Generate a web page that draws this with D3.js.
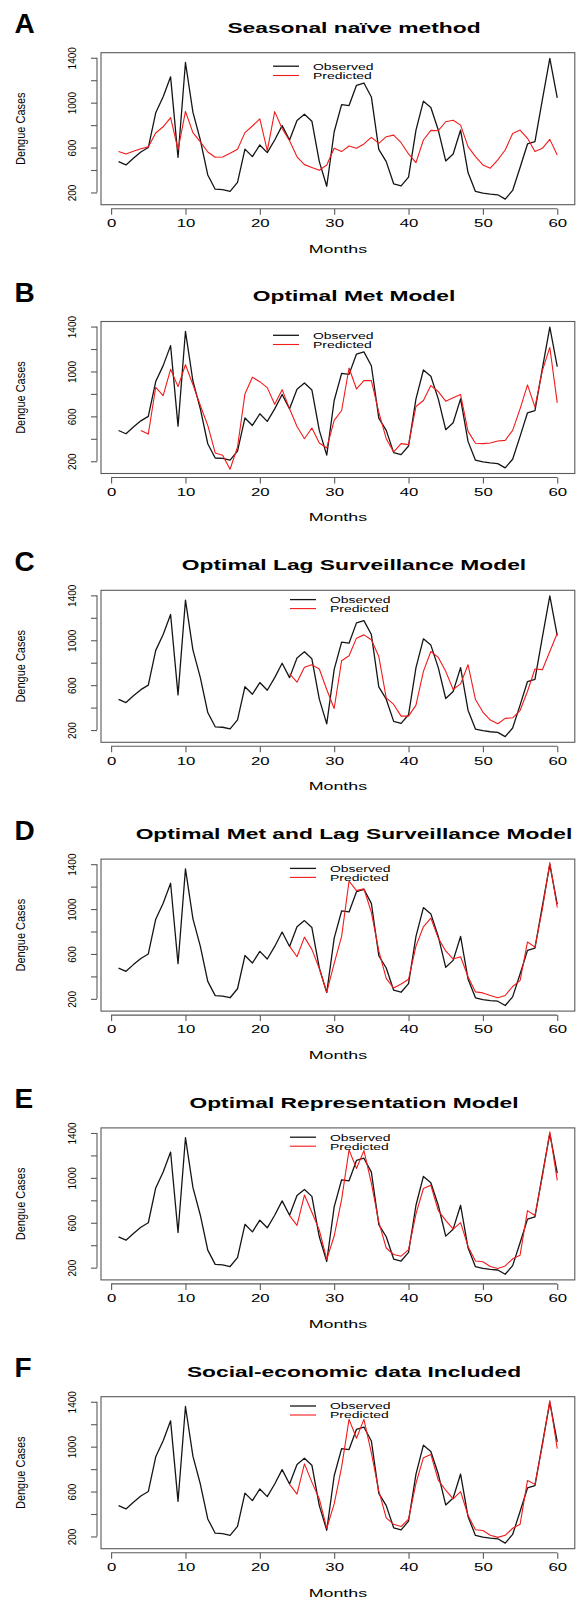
<!DOCTYPE html>
<html><head><meta charset="utf-8">
<script src="https://cdn.jsdelivr.net/npm/d3@7"></script>
<style>body{margin:0;background:#fff}svg{display:block}</style>
</head><body>
<svg id="chart" width="580" height="1604"></svg>
<script>
// ---------- data ----------
const months = d3.range(1, 61);
const observed = [474,445,505,560,600,910,1052,1230,513,1358,915,667,356,229,225,210,290,586,519,623,
  555,667,795,667,842,897,835,475,255,741,983,974,1155,1175,1051,584,475,277,259,336,
  756,1013,957,756,481,543,756,377,209,194,185,179,141,218,422,632,652,1028,1395,1042];

const predSeasonalStart = 1;
const predSeasonal = [564,543,568,590,606,730,785,866,582,922,733,650,560,514,516,549,585,733,792,856,
  572,920,770,660,518,448,423,398,445,593,564,614,593,632,691,637,697,711,643,543,
  466,667,753,750,830,844,800,608,519,445,416,490,578,726,756,682,564,593,673,534];

const predMetStart = 4;
const predMet = [475,442,859,785,1019,865,1060,883,697,519,274,253,129,327,800,948,909,856,708,838,
  667,510,401,496,363,318,564,652,1031,844,918,918,637,401,283,357,348,688,741,874,
  821,735,765,794,466,360,357,363,380,386,475,667,880,682,1007,1214,720];

const predLagStart = 24;
const predLag = [700,626,759,782,744,561,392,818,862,1019,1048,1004,856,487,428,324,324,422,723,900,
  847,723,561,611,782,472,360,289,256,304,309,374,546,744,738,900,1063];

const predMetLagStart = 24;
const predMetLag = [670,575,750,641,469,259,517,756,1250,1164,1181,971,627,382,296,333,374,670,842,920,
  741,627,555,575,397,262,253,230,210,230,310,362,707,661,1000,1415,1014];

const predReprStart = 24;
const predRepr = [664,577,847,693,534,273,482,809,1249,1084,1243,954,606,375,317,302,360,679,905,934,
  708,621,543,601,389,259,253,210,192,215,279,311,708,664,1012,1410,977];

const predSocioStart = 24;
const predSocio = [664,577,847,684,534,273,490,818,1243,1075,1243,945,606,366,308,288,354,673,902,931,
  702,612,534,600,389,259,253,210,192,210,273,308,699,664,1012,1410,983];

const panelLetters = ["A","B","C","D","E","F"];
const panelTitles = ["Seasonal naïve method","Optimal Met Model","Optimal Lag Surveillance Model",
  "Optimal Met and Lag Surveillance Model","Optimal Representation Model","Social-economic data Included"];
const predSeries = [predSeasonal, predMet, predLag, predMetLag, predRepr, predSocio];
const predStarts = [predSeasonalStart, predMetStart, predLagStart, predMetLagStart, predReprStart, predSocioStart];
const xTicks = [0,10,20,30,40,50,60];
const yTicks = [200,400,600,800,1000,1200,1400];
const yTickLabels = [200,600,1000,1400];
const legendLabels = ["Observed","Predicted"];
const xLabel = "Months";
const yLabel = "Dengue Cases";

// ---------- layout ----------
const FONT = "'Liberation Sans', Arial, Helvetica, sans-serif";
const period = 268.8;
const boxL = 101, boxR = 574.8, boxT = 52.7, boxB = 204.7;
const SX = 1.55;
const legendPos = [
  {lx:273, tx:313, r1:13.5, r2:22.8},
  {lx:273, tx:313, r1:13.8, r2:23},
  {lx:290, tx:330, r1:9.3, r2:18.3},
  {lx:290, tx:330, r1:9.3, r2:18.3},
  {lx:290, tx:330, r1:9.3, r2:18.3},
  {lx:290, tx:330, r1:9.3, r2:18.3}
];
const obsColor = "#151515", predColor = "#f21a1a", axisColor = "#5a5a5a";

const svg = d3.select("#chart");
svg.append("rect").attr("width",580).attr("height",1604).attr("fill","#fff");

const xPad = 0.04 * (d3.max(months) - d3.min(months));
const x = d3.scaleLinear().domain([d3.min(months) - xPad, d3.max(months) + xPad]).range([boxL, boxR]);
const [omin, omax] = d3.extent(observed);
const yPad = 0.04 * (omax - omin);
const y = d3.scaleLinear().domain([omin - yPad, omax + yPad]).range([boxB, boxT]);

svg.append("defs").append("clipPath").attr("id","plotclip")
  .append("rect").attr("x",boxL).attr("y",boxT).attr("width",boxR-boxL).attr("height",boxB-boxT);

const line = d3.line().x(d => x(d[0])).y(d => y(d[1]));

function stext(g, tx, ty, str, size, weight, anchor, sx) {
  return g.append("text")
    .attr("transform", `translate(${tx},${ty}) scale(${sx},1)`)
    .attr("text-anchor", anchor)
    .attr("font-family", FONT)
    .attr("font-size", size)
    .attr("font-weight", weight)
    .attr("fill", "#000")
    .text(str);
}

panelTitles.forEach((title, i) => {
  const g = svg.append("g").attr("transform", `translate(0,${i*period})`);

  g.append("text").attr("x", 14.5).attr("y", 33.3)
    .attr("font-family", FONT).attr("font-size", 28).attr("font-weight", "bold").text(panelLetters[i]);

  stext(g, 354, 32.5, title, 15, "bold", "middle", 1.52);

  const pg = g.append("g").attr("clip-path", "url(#plotclip)");
  pg.append("path").datum(months.map((m, k) => [m, observed[k]]))
    .attr("d", line).attr("fill","none").attr("stroke",obsColor).attr("stroke-width",1.3)
    .attr("stroke-linejoin","round");
  const ps = predSeries[i], st = predStarts[i];
  pg.append("path").datum(ps.map((v, k) => [st + k, v]))
    .attr("d", line).attr("fill","none").attr("stroke",predColor).attr("stroke-width",1.1)
    .attr("stroke-linejoin","round");

  g.append("rect").attr("x",boxL).attr("y",boxT).attr("width",boxR-boxL).attr("height",boxB-boxT)
    .attr("fill","none").attr("stroke",axisColor).attr("stroke-width",1.1);

  const xa = g.append("g").attr("transform", `translate(0,${boxB+4})`)
    .call(d3.axisBottom(x).tickValues(xTicks).tickSize(6).tickSizeOuter(0).tickFormat(d3.format("d")));
  xa.select(".domain").remove();
  xa.append("line").attr("x1", x(xTicks[0])).attr("x2", x(xTicks[xTicks.length-1]))
    .attr("stroke",axisColor).attr("stroke-width",1.1);
  xa.selectAll(".tick line").attr("stroke",axisColor).attr("stroke-width",1.1);
  xa.selectAll(".tick text")
    .attr("y", null).attr("dy", null)
    .attr("transform", `translate(0,${227-(boxB+4)}) scale(1.6,1)`)
    .attr("font-family", FONT).attr("font-size", 10.5).attr("fill","#000");

  const ya = g.append("g").attr("transform", `translate(${boxL-4},0)`)
    .call(d3.axisLeft(y).tickValues(yTicks).tickSize(6).tickSizeOuter(0)
      .tickFormat(d => yTickLabels.includes(d) ? d : ""));
  ya.select(".domain").remove();
  ya.append("line").attr("y1", y(yTicks[0])).attr("y2", y(yTicks[yTicks.length-1]))
    .attr("stroke",axisColor).attr("stroke-width",1.1);
  ya.selectAll(".tick line").attr("stroke",axisColor).attr("stroke-width",1.1);
  ya.selectAll(".tick text")
    .attr("x", null).attr("dy", null).attr("y", null)
    .attr("transform", `translate(${75.5-(boxL-4)},0) rotate(-90)`)
    .attr("text-anchor","middle")
    .attr("font-family", FONT).attr("font-size", 10).attr("fill","#000");

  stext(g, (boxL+boxR)/2, 252.5, xLabel, 11.5, "normal", "middle", SX);
  g.append("text").attr("transform", `translate(25,${(boxT+boxB)/2}) scale(1.2,1) rotate(-90)`)
    .attr("text-anchor","middle").attr("font-family", FONT).attr("font-size", 11).text(yLabel);

  const lp = legendPos[i];
  const colors = [obsColor, predColor];
  legendLabels.forEach((lab, k) => {
    const ry = boxT + (k === 0 ? lp.r1 : lp.r2);
    g.append("line").attr("x1", lp.lx).attr("x2", lp.lx + 26).attr("y1", ry).attr("y2", ry)
      .attr("stroke", colors[k]).attr("stroke-width", k === 0 ? 1.3 : 1.1);
    stext(g, lp.tx, ry + 3.3, lab, 9, "normal", "start", SX);
  });
});
</script>
</body></html>
